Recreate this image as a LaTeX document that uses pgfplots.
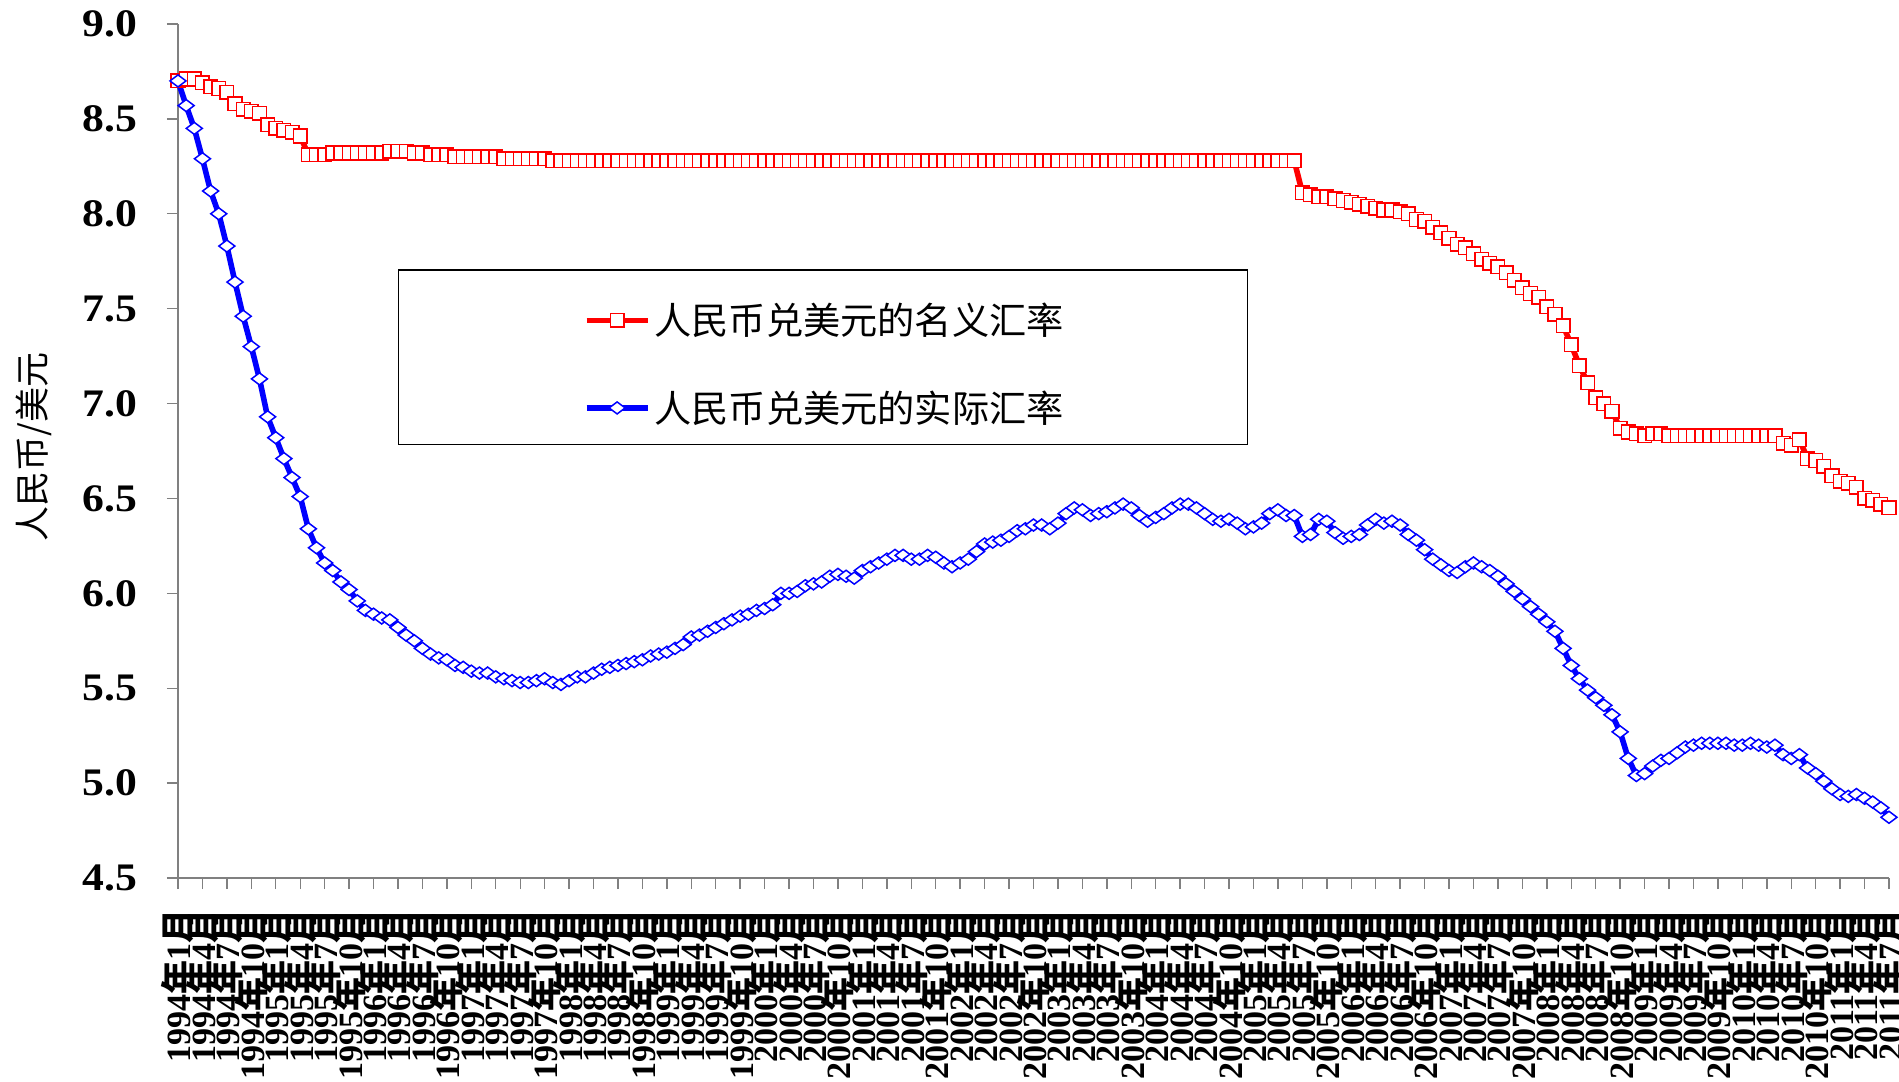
\documentclass[border=0pt]{standalone}
\usepackage{pgfplots}
\pgfplotsset{compat=1.18}
\usepackage{pgfplotstable}
\usepackage{fontspec}
\setmainfont{Liberation Serif}
\newfontfamily\cjk{Noto Sans CJK SC}
\newcommand\ym[2]{#1{\cjk 年}#2{\cjk 月}}

% nominal rate, monthly 1994-01 ... 2011-07
\pgfplotstableread[row sep=\\]{
y\\
8.70\\8.71\\8.71\\8.69\\8.67\\8.66\\8.64\\8.58\\8.55\\8.54\\8.53\\8.47\\
8.45\\8.44\\8.43\\8.41\\8.31\\8.31\\8.31\\8.32\\8.32\\8.32\\8.32\\8.32\\
8.32\\8.32\\8.33\\8.33\\8.33\\8.32\\8.32\\8.31\\8.31\\8.31\\8.30\\8.30\\
8.30\\8.30\\8.30\\8.30\\8.29\\8.29\\8.29\\8.29\\8.29\\8.29\\8.28\\8.28\\
8.28\\8.28\\8.28\\8.28\\8.28\\8.28\\8.28\\8.28\\8.28\\8.28\\8.28\\8.28\\
8.28\\8.28\\8.28\\8.28\\8.28\\8.28\\8.28\\8.28\\8.28\\8.28\\8.28\\8.28\\
8.28\\8.28\\8.28\\8.28\\8.28\\8.28\\8.28\\8.28\\8.28\\8.28\\8.28\\8.28\\
8.28\\8.28\\8.28\\8.28\\8.28\\8.28\\8.28\\8.28\\8.28\\8.28\\8.28\\8.28\\
8.28\\8.28\\8.28\\8.28\\8.28\\8.28\\8.28\\8.28\\8.28\\8.28\\8.28\\8.28\\
8.28\\8.28\\8.28\\8.28\\8.28\\8.28\\8.28\\8.28\\8.28\\8.28\\8.28\\8.28\\
8.28\\8.28\\8.28\\8.28\\8.28\\8.28\\8.28\\8.28\\8.28\\8.28\\8.28\\8.28\\
8.28\\8.28\\8.28\\8.28\\8.28\\8.28\\8.11\\8.10\\8.09\\8.09\\8.08\\8.07\\
8.06\\8.05\\8.04\\8.03\\8.02\\8.02\\8.01\\8.00\\7.97\\7.96\\7.93\\7.90\\
7.87\\7.84\\7.82\\7.79\\7.76\\7.74\\7.72\\7.69\\7.65\\7.61\\7.58\\7.56\\
7.51\\7.47\\7.41\\7.31\\7.20\\7.11\\7.03\\7.00\\6.96\\6.87\\6.85\\6.84\\
6.83\\6.84\\6.84\\6.83\\6.83\\6.83\\6.83\\6.83\\6.83\\6.83\\6.83\\6.83\\
6.83\\6.83\\6.83\\6.83\\6.83\\6.79\\6.78\\6.81\\6.71\\6.70\\6.67\\6.62\\
6.59\\6.58\\6.56\\6.50\\6.49\\6.47\\6.45\\
}\nominal

% real rate, monthly 1994-01 ... 2011-07
\pgfplotstableread[row sep=\\]{
y\\
8.70\\8.57\\8.45\\8.29\\8.12\\8.00\\7.83\\7.64\\7.46\\7.30\\7.13\\6.93\\
6.82\\6.71\\6.61\\6.51\\6.34\\6.24\\6.16\\6.12\\6.06\\6.02\\5.96\\5.91\\
5.89\\5.87\\5.86\\5.82\\5.78\\5.75\\5.71\\5.68\\5.66\\5.65\\5.62\\5.61\\
5.59\\5.58\\5.58\\5.56\\5.55\\5.54\\5.53\\5.53\\5.54\\5.55\\5.53\\5.52\\
5.54\\5.56\\5.56\\5.58\\5.60\\5.61\\5.62\\5.63\\5.64\\5.65\\5.67\\5.68\\
5.69\\5.71\\5.73\\5.77\\5.78\\5.80\\5.82\\5.84\\5.86\\5.88\\5.89\\5.91\\
5.92\\5.94\\6.00\\6.00\\6.01\\6.04\\6.05\\6.06\\6.09\\6.10\\6.09\\6.08\\
6.12\\6.14\\6.16\\6.18\\6.20\\6.20\\6.18\\6.18\\6.20\\6.19\\6.16\\6.14\\
6.16\\6.18\\6.22\\6.26\\6.27\\6.28\\6.30\\6.33\\6.34\\6.36\\6.36\\6.34\\
6.37\\6.42\\6.45\\6.44\\6.41\\6.42\\6.43\\6.45\\6.47\\6.45\\6.41\\6.38\\
6.40\\6.42\\6.45\\6.47\\6.47\\6.45\\6.42\\6.39\\6.38\\6.39\\6.37\\6.34\\
6.35\\6.37\\6.42\\6.44\\6.41\\6.41\\6.30\\6.31\\6.39\\6.38\\6.32\\6.29\\
6.30\\6.31\\6.36\\6.39\\6.37\\6.38\\6.36\\6.31\\6.28\\6.23\\6.18\\6.15\\
6.12\\6.11\\6.14\\6.16\\6.14\\6.12\\6.09\\6.05\\6.01\\5.97\\5.93\\5.89\\
5.85\\5.80\\5.71\\5.62\\5.55\\5.49\\5.45\\5.41\\5.36\\5.27\\5.13\\5.04\\
5.05\\5.09\\5.12\\5.13\\5.16\\5.19\\5.20\\5.21\\5.21\\5.21\\5.21\\5.20\\
5.20\\5.21\\5.20\\5.19\\5.20\\5.15\\5.13\\5.15\\5.08\\5.05\\5.01\\4.97\\
4.94\\4.93\\4.94\\4.92\\4.90\\4.87\\4.82\\
}\real

\begin{document}
\begin{tikzpicture}
\begin{axis}[
  width=855.5pt, height=427pt, scale only axis,
  xmin=0, xmax=210, ymin=4.5, ymax=9.0,
  axis lines*=left,
  axis line style={draw=gray, line width=0.9pt},
  xtick={0,3,...,210},
  xticklabels={
   \ym{1994}{1},\ym{1994}{4},\ym{1994}{7},\ym{1994}{10},
   \ym{1995}{1},\ym{1995}{4},\ym{1995}{7},\ym{1995}{10},
   \ym{1996}{1},\ym{1996}{4},\ym{1996}{7},\ym{1996}{10},
   \ym{1997}{1},\ym{1997}{4},\ym{1997}{7},\ym{1997}{10},
   \ym{1998}{1},\ym{1998}{4},\ym{1998}{7},\ym{1998}{10},
   \ym{1999}{1},\ym{1999}{4},\ym{1999}{7},\ym{1999}{10},
   \ym{2000}{1},\ym{2000}{4},\ym{2000}{7},\ym{2000}{10},
   \ym{2001}{1},\ym{2001}{4},\ym{2001}{7},\ym{2001}{10},
   \ym{2002}{1},\ym{2002}{4},\ym{2002}{7},\ym{2002}{10},
   \ym{2003}{1},\ym{2003}{4},\ym{2003}{7},\ym{2003}{10},
   \ym{2004}{1},\ym{2004}{4},\ym{2004}{7},\ym{2004}{10},
   \ym{2005}{1},\ym{2005}{4},\ym{2005}{7},\ym{2005}{10},
   \ym{2006}{1},\ym{2006}{4},\ym{2006}{7},\ym{2006}{10},
   \ym{2007}{1},\ym{2007}{4},\ym{2007}{7},\ym{2007}{10},
   \ym{2008}{1},\ym{2008}{4},\ym{2008}{7},\ym{2008}{10},
   \ym{2009}{1},\ym{2009}{4},\ym{2009}{7},\ym{2009}{10},
   \ym{2010}{1},\ym{2010}{4},\ym{2010}{7},\ym{2010}{10},
   \ym{2011}{1},\ym{2011}{4},\ym{2011}{7}},
  ytick={4.5,5.0,5.5,6.0,6.5,7.0,7.5,8.0,8.5,9.0},
  tick align=outside,
  major tick length=5.5pt,
  tick style={draw=gray, line width=0.7pt},
  x tick label style={rotate=90, anchor=east, inner sep=0pt,
     font=\bfseries\fontsize{17}{17}\selectfont},
  xticklabel shift=10pt,
  y tick label style={anchor=east, inner sep=0pt, xscale=1.12,
     font=\bfseries\fontsize{19.5}{19.5}\selectfont},
  yticklabel shift=14.5pt,
  /pgf/number format/assume math mode=true,
  yticklabel style={/pgf/number format/fixed, /pgf/number format/fixed zerofill,
     /pgf/number format/precision=1},
  ylabel={人民币/美元},
  ylabel style={font=\cjk\fontsize{17.5}{17.5}\selectfont,
     at={(axis description cs:-0.0845,0.505)}, anchor=center},
  clip=false,
  legend style={at={(0.1286,0.704)}, anchor=north west, draw=none, fill=none,
     inner xsep=92.7pt, inner ysep=11pt, row sep=22.5pt,
     font=\cjk\fontsize{18.6}{18.6}\selectfont, cells={anchor=west},
     /tikz/every even column/.append style={column sep=3pt}},
  legend image code/.code={\draw[mark repeat=2,mark phase=2,#1]
     plot coordinates {(0pt,0pt) (15.25pt,0pt) (30.5pt,0pt)};},
]
% legend frame
\draw[black, line width=0.6pt, fill=white]
   (axis description cs:0.1289,0.7119) rectangle (axis description cs:0.6252,0.5077);
\addplot[color=red, line width=2.8pt, mark=square*, mark size=3.4pt,
   mark options={solid, fill=white, draw=red, line width=0.75pt}]
   table[x expr=\coordindex, y=y]{\nominal};
\addlegendentry{人民币兑美元的名义汇率}
\addplot[color=blue, line width=2.8pt, mark=diamond*, mark size=4pt,
   mark options={solid, rotate=90, fill=white, draw=blue, line width=0.75pt}]
   table[x expr=\coordindex, y=y]{\real};
\addlegendentry{人民币兑美元的实际汇率}
\end{axis}
\pgfresetboundingbox
\path[use as bounding box] ([shift={(-89pt,-101.5pt)}]current axis.south west)
   rectangle ([shift={(5pt,12pt)}]current axis.north east);
\end{tikzpicture}
\end{document}
